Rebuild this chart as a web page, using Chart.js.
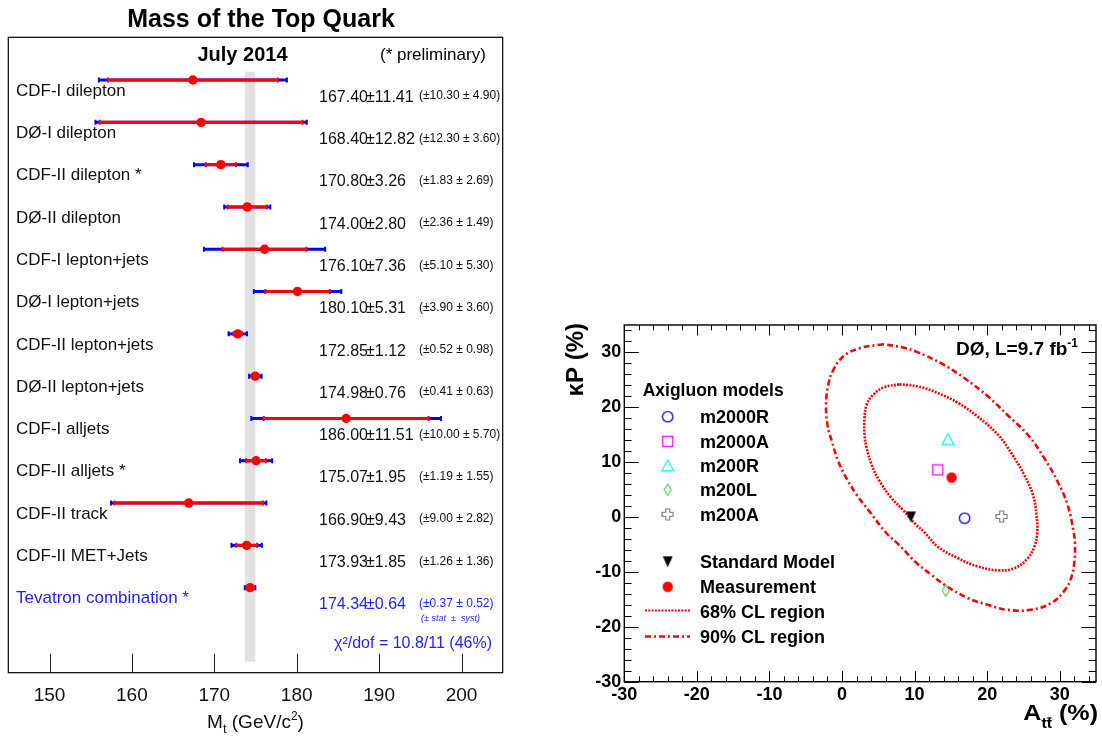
<!DOCTYPE html>
<html>
<head>
<meta charset="utf-8">
<script src="https://cdn.jsdelivr.net/npm/chart.js@4.4.1/dist/chart.umd.min.js"></script>
<style>
  html, body { margin: 0; padding: 0; background: #fff; }
  #massChart { position: absolute; left: 0; top: 0; }
  #asymChart { position: absolute; left: 540px; top: 0; }
</style>
</head>
<body>
<canvas id="massChart" width="540" height="738"></canvas>
<canvas id="asymChart" width="562" height="738"></canvas>
<script>
const FONT = '"Liberation Sans", Arial, Helvetica, sans-serif';
Chart.defaults.font.family = FONT;
Chart.defaults.color = '#000';

// ---------- left panel: top quark mass measurements ----------
const experiments = ['CDF-I dilepton', 'DØ-I dilepton', 'CDF-II dilepton *', 'DØ-II dilepton',
  'CDF-I lepton+jets', 'DØ-I lepton+jets', 'CDF-II lepton+jets', 'DØ-II lepton+jets',
  'CDF-I alljets', 'CDF-II alljets *', 'CDF-II track', 'CDF-II MET+Jets', 'Tevatron combination *'];
const massValues = [167.40, 168.40, 170.80, 174.00, 176.10, 180.10, 172.85, 174.98, 186.00, 175.07, 166.90, 173.93, 174.34];
const totalErrors = [11.41, 12.82, 3.26, 2.80, 7.36, 5.31, 1.12, 0.76, 11.51, 1.95, 9.43, 1.85, 0.64];
const statErrors = [10.30, 12.30, 1.83, 2.36, 5.10, 3.90, 0.52, 0.41, 10.00, 1.19, 9.00, 1.26, 0.37];
const systErrors = [4.90, 3.60, 2.69, 1.49, 5.30, 3.60, 0.98, 0.63, 5.70, 1.55, 2.82, 1.36, 0.52];
const massTicks = [150, 160, 170, 180, 190, 200];
const chi2Label = 'χ²/dof = 10.8/11 (46%)';

// ---------- right panel: asymmetry vs polarization ----------
const modelNames = ['m2000R', 'm2000A', 'm200R', 'm200L', 'm200A'];
const modelAsym = [16.9, 13.2, 14.6, 14.3, 22.0];
const modelPol = [-0.2, 8.6, 14.2, -13.4, 0.1];
const smAsym = [9.5];
const smPol = [0.0];
const measAsym = [15.1];
const measPol = [7.2];
// contours, going round anticlockwise from the top
const cl68Asym = [7.9, 5.7, 4.3, 3.4, 3.1, 3.1, 3.4, 4.1, 5.2, 6.8, 8.4, 10.2, 11.3, 13.2, 16.0, 18.7, 21.5, 23.8, 25.6, 26.5, 26.9, 26.8, 26.3, 25.1, 23.5, 21.5, 18.7, 16.0, 13.2, 10.5, 7.9];
const cl68Pol = [24.2, 23.6, 22.3, 20.5, 18.0, 15.0, 12.6, 9.5, 6.5, 3.5, 1.3, -1.4, -2.7, -5.4, -7.5, -9.0, -9.7, -9.3, -7.5, -5.4, -2.9, 0.4, 4.1, 7.7, 11.3, 15.0, 18.3, 20.8, 22.6, 23.8, 24.2];
const cl90Asym = [5.7, 2.5, 0.2, -1.2, -1.9, -2.2, -2.0, -1.4, -0.5, 0.6, 2.0, 3.8, 6.1, 7.8, 10.3, 12.3, 14.3, 17.4, 20.1, 22.8, 26.0, 28.8, 30.6, 31.5, 32.0, 32.1, 31.9, 31.1, 29.7, 27.9, 25.6, 22.8, 20.1, 16.9, 13.7, 10.3, 8.4, 5.7];
const cl90Pol = [31.5, 30.8, 29.3, 26.8, 24.1, 20.5, 16.8, 13.8, 10.1, 7.1, 4.1, 1.0, -2.9, -5.0, -8.4, -10.5, -12.5, -14.8, -16.0, -16.9, -16.9, -15.7, -13.5, -11.4, -8.4, -4.7, -2.6, 2.2, 6.5, 10.7, 15.0, 18.6, 22.0, 25.3, 28.0, 30.1, 30.9, 31.5];
const axisTicks = [-30, -20, -10, 0, 10, 20, 30];

const BLUE_TXT = '#1f1fff';

// draws a run of text pieces (for sub/superscripts)
function richText(ctx, parts, x, y, align) {
  let w = 0;
  parts.forEach(p => { ctx.font = p.font; p.w = ctx.measureText(p.t).width; w += p.w; });
  let cx = align === 'right' ? x - w : align === 'center' ? x - w / 2 : x;
  ctx.textAlign = 'left';
  ctx.textBaseline = 'alphabetic';
  parts.forEach(p => {
    ctx.font = p.font;
    ctx.fillText(p.t, cx, y + (p.dy || 0));
    p.x = cx;
    cx += p.w;
  });
  return parts;
}

function errorBar(ctx, xs, m, e, py, col) {
  const x0 = xs.getPixelForValue(m - e), x1 = xs.getPixelForValue(m + e);
  ctx.strokeStyle = col;
  ctx.lineWidth = 3;
  ctx.beginPath(); ctx.moveTo(x0, py); ctx.lineTo(x1, py); ctx.stroke();
  ctx.lineWidth = 2;
  ctx.beginPath();
  ctx.moveTo(x0, py - 2.5); ctx.lineTo(x0, py + 2.5);
  ctx.moveTo(x1, py - 2.5); ctx.lineTo(x1, py + 2.5);
  ctx.stroke();
}

const massDecor = {
  id: 'massDecor',
  beforeDatasetsDraw(chart) {
    const { ctx, scales: { x, y } } = chart;
    const last = massValues.length - 1;
    ctx.save();
    // grey band: combined value +- total error
    const bx0 = x.getPixelForValue(massValues[last] - totalErrors[last]);
    const bx1 = x.getPixelForValue(massValues[last] + totalErrors[last]);
    const by0 = y.getPixelForValue(-0.2), by1 = y.getPixelForValue(13.75);
    ctx.fillStyle = '#e1e1e1';
    ctx.fillRect(bx0, by0, bx1 - bx0, by1 - by0);
    massValues.forEach((m, i) => {
      const py = y.getPixelForValue(i);
      errorBar(ctx, x, m, totalErrors[i], py, '#0000ff');
      errorBar(ctx, x, m, statErrors[i], py, '#ff0000');
    });
    ctx.restore();
  },
  afterDraw(chart) {
    const { ctx, chartArea: a, scales: { x, y } } = chart;
    ctx.save();
    // frame + inner ticks
    ctx.strokeStyle = '#000';
    ctx.lineWidth = 1.2;
    ctx.strokeRect(a.left, a.top, a.right - a.left, a.bottom - a.top);
    ctx.lineWidth = 1;
    ctx.strokeStyle = '#222';
    massTicks.forEach(v => {
      const px = Math.round(x.getPixelForValue(v)) + 0.5;
      ctx.beginPath(); ctx.moveTo(px, a.bottom); ctx.lineTo(px, a.bottom - 19); ctx.stroke();
    });

    ctx.fillStyle = '#000';
    ctx.textAlign = 'center';
    ctx.textBaseline = 'alphabetic';
    ctx.font = 'bold 25px ' + FONT;
    ctx.fillText('Mass of the Top Quark', 261, 27);
    ctx.font = 'bold 20px ' + FONT;
    ctx.fillText('July 2014', 242.5, 61);
    ctx.textAlign = 'left';
    ctx.font = '17px ' + FONT;
    ctx.fillText('(* preliminary)', 380, 60);

    const last = massValues.length - 1;
    experiments.forEach((name, i) => {
      const py = y.getPixelForValue(i);
      ctx.fillStyle = i === last ? BLUE_TXT : '#111';
      ctx.font = '17px ' + FONT;
      ctx.fillText(name, 16, py + 15.7);
      ctx.font = '16px ' + FONT;
      ctx.fillText(massValues[i].toFixed(2), 319, py + 21.7);
      ctx.fillText('±' + totalErrors[i].toFixed(2), 366, py + 21.7);
      ctx.font = '12px ' + FONT;
      ctx.fillText('(±' + statErrors[i].toFixed(2) + ' ± ' + systErrors[i].toFixed(2) + ')', 419, py + 19.3);
    });
    const pyl = y.getPixelForValue(last);
    ctx.fillStyle = BLUE_TXT;
    ctx.font = 'italic 9px ' + FONT;
    ctx.fillText('(± stat  ±  syst)', 421, pyl + 33);
    ctx.font = '16px ' + FONT;
    ctx.textAlign = 'right';
    ctx.fillText(chi2Label, 492, 647.5);

    // axis title M_t (GeV/c^2)
    ctx.fillStyle = '#111';
    richText(ctx, [
      { t: 'M', font: '19px ' + FONT },
      { t: 't', font: '13px ' + FONT, dy: 5 },
      { t: ' (GeV/c', font: '19px ' + FONT },
      { t: '2', font: '12px ' + FONT, dy: -8 },
      { t: ')', font: '19px ' + FONT }
    ], 255.5, 727.5, 'center');
    ctx.restore();
  }
};

new Chart(document.getElementById('massChart').getContext('2d'), {
  type: 'scatter',
  data: {
    datasets: [{
      data: massValues.map((m, i) => ({ x: m, y: i })),
      pointRadius: 4.7,
      pointBackgroundColor: '#ff0000',
      pointBorderWidth: 0
    }]
  },
  options: {
    responsive: false,
    devicePixelRatio: 1,
    animation: false,
    events: [],
    layout: { padding: { left: 8.3, right: 37.3, top: 37.3, bottom: 0 } },
    plugins: { legend: { display: false }, tooltip: { enabled: false } },
    scales: {
      x: {
        type: 'linear', position: 'bottom', min: 145, max: 205,
        afterBuildTicks: s => { s.ticks = massTicks.map(v => ({ value: v })); },
        afterFit: s => { s.height = 65.3; },
        grid: { display: false, drawTicks: false },
        border: { display: false },
        ticks: { font: { size: 19 }, color: '#111', padding: 12, maxRotation: 0 }
      },
      y: { type: 'linear', reverse: true, min: -1.01, max: 14.01, display: false }
    }
  },
  plugins: [massDecor]
});

// ---------- marker images ----------
function marker(w, h, draw) {
  const c = document.createElement('canvas');
  c.width = w; c.height = h;
  draw(c.getContext('2d'));
  return c;
}
function poly(g, pts) {
  g.beginPath();
  pts.forEach((p, i) => (i ? g.lineTo(p[0], p[1]) : g.moveTo(p[0], p[1])));
  g.closePath();
}
const mkCircle = marker(13, 13, g => { g.strokeStyle = '#0000ff'; g.lineWidth = 1.3; g.beginPath(); g.arc(6.5, 6.5, 5.2, 0, 2 * Math.PI); g.stroke(); });
const mkSquare = marker(13, 13, g => { g.strokeStyle = '#ff00ff'; g.lineWidth = 1.3; g.strokeRect(1.5, 1.5, 10, 10); });
const mkTri = marker(14, 13, g => { g.strokeStyle = '#00ffff'; g.lineWidth = 1.3; poly(g, [[7, 1], [1.2, 11.8], [12.8, 11.8]]); g.stroke(); });
const mkDiamond = marker(9, 13, g => { g.strokeStyle = '#44cc44'; g.lineWidth = 1.1; poly(g, [[4.5, 0.8], [8, 6.5], [4.5, 12.2], [1, 6.5]]); g.stroke(); });
const mkCross = marker(13, 13, g => {
  g.strokeStyle = '#6f7a88'; g.lineWidth = 1.2;
  poly(g, [[4.5, 1], [8.5, 1], [8.5, 4.5], [12, 4.5], [12, 8.5], [8.5, 8.5], [8.5, 12], [4.5, 12], [4.5, 8.5], [1, 8.5], [1, 4.5], [4.5, 4.5]]);
  g.stroke();
});
const mkSM = marker(11, 12, g => { g.fillStyle = '#000'; poly(g, [[0.5, 0.5], [10.5, 0.5], [5.5, 11.5]]); g.fill(); });
const mkMeas = marker(12, 12, g => { g.fillStyle = '#ff0000'; g.beginPath(); g.arc(6, 6, 5.2, 0, 2 * Math.PI); g.fill(); });
const modelMarkers = [mkCircle, mkSquare, mkTri, mkDiamond, mkCross];

const DOT68 = [2, 1.3];
const DASHDOT90 = [6, 3, 2, 3];

const asymDecor = {
  id: 'asymDecor',
  afterDraw(chart) {
    const { ctx, chartArea: a, scales: { x, y } } = chart;
    ctx.save();
    ctx.strokeStyle = '#000';
    ctx.lineWidth = 1.4;
    ctx.strokeRect(a.left, a.top, a.right - a.left, a.bottom - a.top);
    ctx.lineWidth = 1;
    for (let v = -30; v <= 35; v += 2) {
      const major = v % 10 === 0;
      const px = Math.round(x.getPixelForValue(v)) + 0.5;
      const tl = major ? 10.5 : 5.3;
      ctx.beginPath();
      ctx.moveTo(px, a.bottom); ctx.lineTo(px, a.bottom - tl);
      ctx.moveTo(px, a.top); ctx.lineTo(px, a.top + tl);
      ctx.stroke();
      const py = Math.round(y.getPixelForValue(v)) + 0.5;
      const tl2 = major ? 14.5 : 7.3;
      ctx.beginPath();
      ctx.moveTo(a.left, py); ctx.lineTo(a.left + tl2, py);
      ctx.moveTo(a.right, py); ctx.lineTo(a.right - tl2, py);
      ctx.stroke();
    }

    // legend
    ctx.fillStyle = '#000';
    ctx.textAlign = 'left';
    ctx.textBaseline = 'alphabetic';
    ctx.font = 'bold 17.5px ' + FONT;
    ctx.fillText('Axigluon models', 102.7, 396);
    ctx.font = 'bold 18px ' + FONT;
    const rows = [416.7, 441.3, 465.5, 489.7, 514.3];
    modelNames.forEach((n, i) => {
      const m = modelMarkers[i];
      ctx.drawImage(m, 127.7 - m.width / 2, rows[i] - m.height / 2);
      ctx.fillText(n, 160, rows[i] + 6.5);
    });
    ctx.drawImage(mkSM, 127.7 - mkSM.width / 2, 561.7 - mkSM.height / 2);
    ctx.fillText('Standard Model', 160, 561.7 + 6.5);
    ctx.drawImage(mkMeas, 127.7 - mkMeas.width / 2, 586.7 - mkMeas.height / 2);
    ctx.fillText('Measurement', 160, 586.7 + 6.5);
    ctx.fillText('68% CL region', 160, 611.3 + 6.5);
    ctx.fillText('90% CL region', 160, 636.7 + 6.5);
    ctx.strokeStyle = '#ff0000';
    ctx.lineWidth = 2.2;
    ctx.setLineDash(DOT68);
    ctx.beginPath(); ctx.moveTo(105, 610.5); ctx.lineTo(150, 610.5); ctx.stroke();
    ctx.setLineDash(DASHDOT90);
    ctx.lineWidth = 2.4;
    ctx.beginPath(); ctx.moveTo(105, 636.5); ctx.lineTo(150, 636.5); ctx.stroke();
    ctx.setLineDash([]);

    // DØ label
    ctx.fillStyle = '#000';
    richText(ctx, [
      { t: 'DØ, L=9.7 fb', font: 'bold 19px ' + FONT },
      { t: '-1', font: 'bold 12px ' + FONT, dy: -8 }
    ], 538, 355, 'right');

    // y title
    ctx.save();
    ctx.translate(43, 323);
    ctx.rotate(-Math.PI / 2);
    ctx.font = 'bold 24px ' + FONT;
    ctx.textAlign = 'right';
    ctx.fillText('κP (%)', 0, 0);
    ctx.restore();

    // x title A_tt̄ (%), slightly stretched like the original
    ctx.save();
    ctx.translate(558, 720);
    ctx.scale(1.14, 1);
    const parts = richText(ctx, [
      { t: 'A', font: 'bold 22px ' + FONT },
      { t: 'tt', font: 'bold 14px ' + FONT, dy: 8 },
      { t: ' (%)', font: 'bold 22px ' + FONT }
    ], 0, 0, 'right');
    const sub = parts[1];
    ctx.font = sub.font;
    const tw = ctx.measureText('t').width;
    ctx.strokeStyle = '#000';
    ctx.lineWidth = 1.4;
    ctx.beginPath();
    ctx.moveTo(sub.x + tw + 0.5, -2); ctx.lineTo(sub.x + 2 * tw - 0.5, -2);
    ctx.stroke();
    ctx.restore();
    ctx.restore();
  }
};

const asymDatasets = modelNames.map((n, i) => ({
  label: n,
  data: [{ x: modelAsym[i], y: modelPol[i] }],
  pointStyle: modelMarkers[i],
  pointRadius: 5
}));
asymDatasets.push(
  { label: 'Standard Model', data: smAsym.map((v, i) => ({ x: v, y: smPol[i] })), pointStyle: mkSM, pointRadius: 5 },
  { label: 'Measurement', data: measAsym.map((v, i) => ({ x: v, y: measPol[i] })), pointStyle: mkMeas, pointRadius: 5 },
  {
    label: '68% CL region', data: cl68Asym.map((v, i) => ({ x: v, y: cl68Pol[i] })),
    showLine: true, pointRadius: 0, borderColor: '#ff0000', borderWidth: 2.6, borderDash: DOT68, tension: 0.4
  },
  {
    label: '90% CL region', data: cl90Asym.map((v, i) => ({ x: v, y: cl90Pol[i] })),
    showLine: true, pointRadius: 0, borderColor: '#ff0000', borderWidth: 2.6, borderDash: DASHDOT90, tension: 0.4
  }
);

new Chart(document.getElementById('asymChart').getContext('2d'), {
  type: 'scatter',
  data: { datasets: asymDatasets },
  options: {
    responsive: false,
    devicePixelRatio: 1,
    animation: false,
    events: [],
    layout: { padding: { left: 0, right: 3, top: 325, bottom: 0 } },
    plugins: { legend: { display: false }, tooltip: { enabled: false } },
    scales: {
      x: {
        type: 'linear', position: 'bottom', min: -30, max: 35,
        afterBuildTicks: s => { s.ticks = axisTicks.map(v => ({ value: v })); },
        afterFit: s => { s.height = 56.3; },
        grid: { display: false, drawTicks: false },
        border: { display: false },
        ticks: { font: { size: 18, weight: 'bold' }, color: '#000', padding: 3, maxRotation: 0 }
      },
      y: {
        type: 'linear', position: 'left', min: -30, max: 35,
        afterBuildTicks: s => { s.ticks = axisTicks.map(v => ({ value: v })); },
        afterFit: s => { s.width = 84.3; },
        grid: { display: false, drawTicks: false },
        border: { display: false },
        ticks: { font: { size: 18, weight: 'bold' }, color: '#000', padding: 3 }
      }
    }
  },
  plugins: [asymDecor]
});
</script>
</body>
</html>
